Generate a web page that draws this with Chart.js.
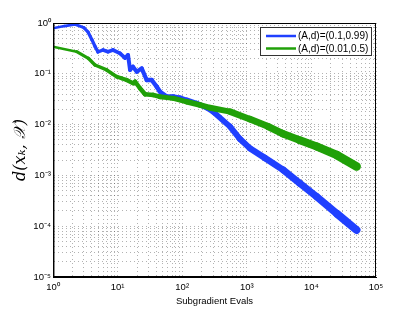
<!DOCTYPE html>
<html>
<head>
<meta charset="utf-8">
<script src="https://cdn.jsdelivr.net/npm/chart.js@4/dist/chart.umd.min.js"></script>
<style>
html,body{margin:0;padding:0;background:#fff;}
canvas{display:block;}
</style>
</head>
<body>
<canvas id="c" width="415" height="312"></canvas>
<script>
// ---- data ----
const seriesLabels = ["(A,d)=(0.1,0.99)", "(A,d)=(0.01,0.5)"];

const blueX = [1, 1.5, 2.2, 3.0, 3.5, 4.0, 4.5, 4.97, 5.94, 7.1, 8.49, 10.9, 13.0, 14.5, 15.6, 17.3, 19.8, 23.6, 28.2, 33.7, 40.3, 45.3, 57.5, 72, 92.5, 117, 168, 240, 300, 550, 785, 1120, 1910, 3670, 6600, 12100, 25000, 50000];
const blueY = [0.79, 0.87, 0.94, 0.81, 0.66, 0.47, 0.34, 0.27, 0.294, 0.272, 0.294, 0.253, 0.205, 0.234, 0.119, 0.138, 0.110, 0.128, 0.0755, 0.0755, 0.0557, 0.0444, 0.0354, 0.0354, 0.0334, 0.0305, 0.0262, 0.0215, 0.018, 0.0091, 0.0052, 0.0034, 0.0022, 0.00128, 0.0007, 0.00038, 0.000175, 0.000084];

const greenX = [1, 2.33, 3.52, 4.47, 6.78, 9.68, 11.6, 13.8, 17.5, 18.6, 22.2, 26.6, 35.7, 45.3, 72.8, 117, 189, 270, 550, 1120, 2130, 3630, 6650, 12100, 25000, 50000];
const greenY = [0.341, 0.272, 0.202, 0.149, 0.119, 0.0877, 0.0815, 0.0755, 0.065, 0.070, 0.0518, 0.0395, 0.0383, 0.0354, 0.0329, 0.0282, 0.0243, 0.0215, 0.018, 0.0128, 0.0092, 0.0066, 0.0049, 0.0037, 0.0025, 0.0015];

const xTickLabels = ["10\u2070", "10\u00B9", "10\u00B2", "10\u00B3", "10\u2074", "10\u2075"];
const yTickLabels = ["10\u207B\u2075", "10\u207B\u2074", "10\u207B\u00B3", "10\u207B\u00B2", "10\u207B\u00B9", "10\u2070"];
const xPowers = [0, 1, 2, 3, 4, 5];
const yPowers = [-5, -4, -3, -2, -1, 0];

const BLUE = "rgb(32,64,255)";
const GREEN = "rgb(32,160,8)";
const FONT = "'Liberation Sans', Arial, sans-serif";

function pts(xs, ys) { return xs.map((x, i) => ({x: x, y: ys[i]})); }

function logTicks(powers) {
  const t = [];
  for (let i = 0; i < powers.length; i++) {
    const p = powers[i];
    if (i === powers.length - 1) { t.push({value: Math.pow(10, p)}); break; }
    for (let d = 1; d <= 9; d++) t.push({value: d * Math.pow(10, p)});
  }
  return t;
}
function labelFor(v, powers, labels) {
  const l = Math.log10(v);
  const r = Math.round(l);
  if (Math.abs(l - r) < 1e-6) {
    const idx = powers.indexOf(r);
    return idx >= 0 ? labels[idx] : '';
  }
  return '';
}

const frameAndLegend = {
  id: 'frameAndLegend',
  afterDatasetsDraw(chart) {
    const {ctx, chartArea: a} = chart;
    ctx.save();
    ctx.strokeStyle = '#000';
    ctx.lineWidth = 1;
    ctx.strokeRect(a.left + 0.5, a.top + 0.5, a.right - a.left - 1, a.bottom - a.top - 1);
    ctx.strokeStyle = 'rgba(0,0,0,0.45)';
    ctx.beginPath();
    ctx.moveTo(a.left + 1.5, a.top);
    ctx.lineTo(a.left + 1.5, a.bottom);
    ctx.stroke();
    // legend box
    const bx = 260.5, by = 27.5, bw = 111, bh = 28;
    ctx.fillStyle = '#fff';
    ctx.fillRect(bx, by, bw, bh);
    ctx.strokeStyle = '#333';
    ctx.lineWidth = 1;
    ctx.strokeRect(bx, by, bw, bh);
    const colors = [BLUE, GREEN];
    const ys = [36, 48.5];
    ctx.font = "10px " + FONT;
    ctx.textBaseline = 'middle';
    ctx.textAlign = 'left';
    for (let i = 0; i < 2; i++) {
      ctx.strokeStyle = colors[i];
      ctx.lineWidth = 2.5;
      ctx.beginPath();
      ctx.moveTo(266, ys[i]);
      ctx.lineTo(296, ys[i]);
      ctx.stroke();
      ctx.fillStyle = '#000';
      ctx.fillText(seriesLabels[i], 298, ys[i] + 0.5);
    }
    ctx.restore();
  }
};

const gridStyle = {color: 'rgba(0,0,0,0.3)', lineWidth: 1, drawTicks: false};

new Chart(document.getElementById('c'), {
  type: 'line',
  data: {
    datasets: [
      {
        label: seriesLabels[0],
        data: pts(blueX, blueY),
        borderColor: BLUE,
        backgroundColor: BLUE,
        pointRadius: 0,
        tension: 0,
        borderCapStyle: 'round',
        borderJoinStyle: 'round',
        order: 1,
        segment: {
          borderWidth: c => 2.6 + 1.2 * Math.log10(c.p0.parsed.x)
        }
      },
      {
        label: seriesLabels[1],
        data: pts(greenX, greenY),
        borderColor: GREEN,
        backgroundColor: GREEN,
        pointRadius: 0,
        tension: 0,
        borderCapStyle: 'round',
        borderJoinStyle: 'round',
        order: 0,
        segment: {
          borderWidth: c => 2.6 + 1.4 * Math.log10(c.p0.parsed.x)
        }
      }
    ]
  },
  options: {
    responsive: false,
    animation: false,
    devicePixelRatio: 1,
    layout: {padding: {top: 23, right: 39, left: 0, bottom: 0}},
    plugins: {legend: {display: false}, tooltip: {enabled: false}},
    scales: {
      x: {
        type: 'logarithmic',
        position: 'bottom',
        min: 1, max: 100000,
        afterBuildTicks: s => { s.ticks = logTicks(xPowers); },
        afterFit: s => { s.height = 35; },
        grid: gridStyle,
        border: {display: true, color: '#000', width: 1, dash: [1, 3]},
        ticks: {
          autoSkip: false, maxRotation: 0, padding: 5, color: '#000',
          font: {family: FONT, size: 9.5},
          callback: v => labelFor(v, xPowers, xTickLabels)
        },
        title: {
          display: true, text: 'Subgradient Evals', color: '#000',
          font: {family: FONT, size: 9.5},
          padding: {top: 0, bottom: 5}
        }
      },
      y: {
        type: 'logarithmic',
        position: 'left',
        min: 0.00001, max: 1,
        afterBuildTicks: s => { s.ticks = logTicks(yPowers); },
        afterFit: s => { s.width = 53; },
        grid: gridStyle,
        border: {display: true, color: '#000', width: 1, dash: [1, 3]},
        ticks: {
          autoSkip: false, padding: 2, color: '#000',
          font: {family: FONT, size: 9.5},
          callback: v => labelFor(v, yPowers, yTickLabels)
        },
        title: {
          display: true, text: 'd(x\u2096, \uD835\uDCB3)', color: '#000',
          font: {family: "'DejaVu Serif', 'Liberation Serif', serif", size: 16, style: 'italic'},
          padding: {top: 11, bottom: 0}
        }
      }
    }
  },
  plugins: [frameAndLegend]
});
</script>
</body>
</html>
